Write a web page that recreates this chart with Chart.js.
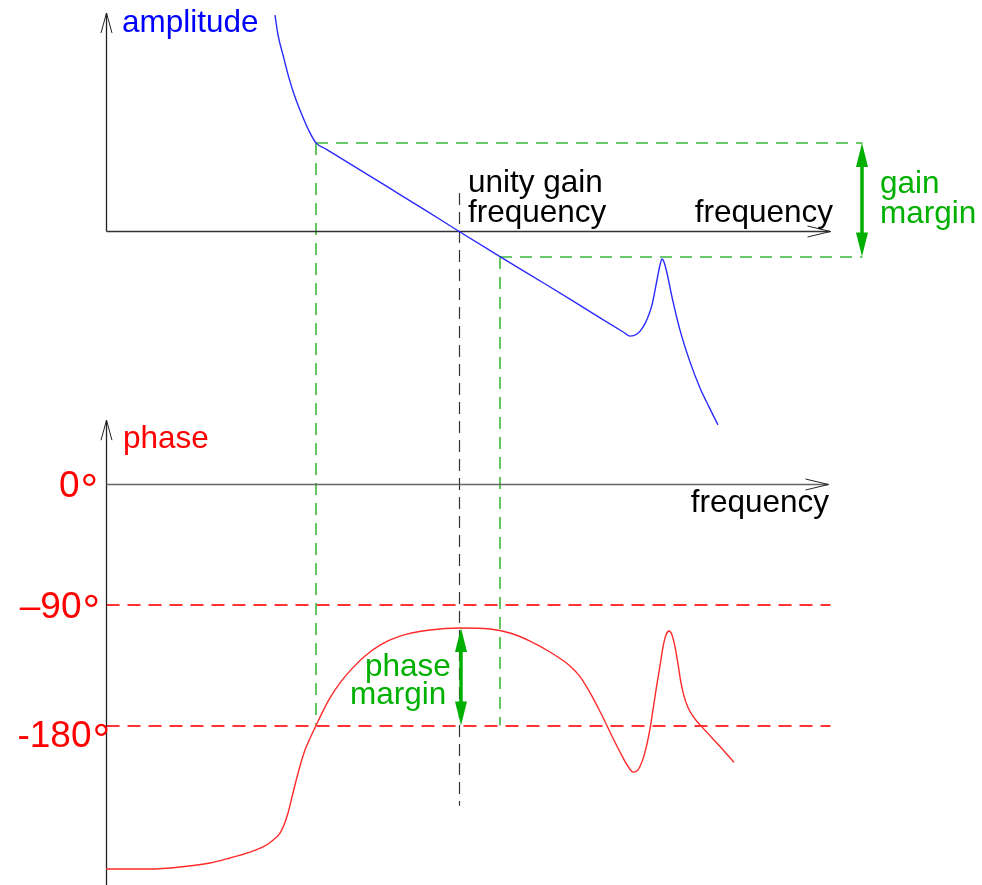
<!DOCTYPE html>
<html>
<head>
<meta charset="utf-8">
<script src="https://cdn.jsdelivr.net/npm/chart.js@4.4.1/dist/chart.umd.min.js"></script>
<style>
  html, body { margin: 0; padding: 0; background: #fff; }
  canvas { display: block; }
</style>
</head>
<body>
<canvas id="bode" width="982" height="885"></canvas>
<script>
// frequency in decades from the vertical axis, gain in dB
const ampFreq = [1.69, 1.72, 1.77, 1.83, 1.89, 1.96, 2.03, 2.10, 2.20, 2.40, 2.80, 3.20, 3.54, 3.94, 4.40, 4.80, 5.18, 5.24,
                 5.31, 5.37, 5.42, 5.46, 5.51, 5.54, 5.56, 5.58, 5.61, 5.66, 5.74, 5.84, 5.94, 6.03, 6.12];
const ampGain = [72.3, 65.7, 59.0, 51.3, 45.0, 39.0, 33.7, 29.7, 27.65, 23.55, 15.34, 7.14, 0, -8.2, -17.5, -25.7, -33.5, -34.7,
                 -34.0, -31.7, -28.3, -24.3, -16.0, -11.0, -9.0, -10.0, -13.7, -21.7, -32.7, -43.3, -52.0, -58.3, -64.3];

// phase in degrees
const phaseFreq = [0.00, 0.44, 0.74, 1.04, 1.24, 1.44, 1.57, 1.66, 1.74, 1.78,
                   1.82, 1.86, 1.90, 1.94, 1.99, 2.04, 2.10, 2.17, 2.24, 2.34,
                   2.44, 2.59, 2.74, 2.94, 3.24, 3.54, 3.84, 4.04, 4.24, 4.44,
                   4.64, 4.74, 4.84, 4.94, 4.99, 5.06, 5.14, 5.21, 5.27, 5.32,
                   5.37, 5.41, 5.44, 5.47, 5.50, 5.54, 5.57, 5.60, 5.63, 5.66,
                   5.69, 5.72, 5.75, 5.78, 5.82, 5.87, 5.91, 5.99, 6.07, 6.18, 6.28];
const phaseDeg = [-287.2, -287.2, -285.7, -282.7, -278.9, -274.5, -270.7, -266.2, -260.3, -254.3,
                  -245.3, -233.4, -221.4, -210.2, -198.3, -189.5, -180.0, -169.2, -159.4, -148.2,
                  -139.2, -128.1, -119.9, -113.2, -108.7, -107.2, -107.9, -110.9, -116.9, -125.1,
                  -135.5, -143.5, -155.5, -169.5, -177.0, -188.0, -199.8, -209.3, -214.8, -213.1,
                  -204.9, -193.7, -182.5, -168.3, -153.4, -135.5, -121.3, -112.4, -109.4, -112.4,
                  -121.3, -134.0, -148.2, -158.0, -166.5, -173.0, -177.0, -183.5, -190.0, -199.0, -207.5];

// margins and reference levels
const unityFreq = 3.54;
const crossFreq = [2.10, 3.94];
const crossGain = [29.7, -8.2];
const phaseAtUnity = -107.2;
const phaseTicks = [0, -90, -180];
const phaseTickLabels = ["0", "–90", "-180"];

// axis extents
const freqAxisEnd = 7.24;
const marginFreq = 7.56;
const ampAxisTop = 73;
const phaseAxisTop = 48;

const FONT = '"Liberation Sans", Arial, Helvetica, sans-serif';
const GREEN = "#00b000";
const GREEN_DASH = "#3cb83c";
const RED = "#ff0000";
const BLUE = "#0000ff";

// crisp 1px lines
const snap = v => Math.round(v - 0.5) + 0.5;

function seg(ctx, x1, y1, x2, y2, color, width, dash) {
    ctx.save();
    ctx.strokeStyle = color;
    ctx.lineWidth = width;
    ctx.setLineDash(dash || []);
    ctx.beginPath();
    ctx.moveTo(x1, y1);
    ctx.lineTo(x2, y2);
    ctx.stroke();
    ctx.restore();
}

// open chevron arrowhead, dir = "up" or "right"
function chevron(ctx, x, y, dir) {
    ctx.save();
    ctx.strokeStyle = "#222";
    ctx.lineWidth = 1;
    ctx.beginPath();
    if (dir === "up") {
        ctx.moveTo(x - 5.5, y + 20); ctx.lineTo(x, y); ctx.lineTo(x + 5.5, y + 20);
    } else {
        ctx.moveTo(x - 23, y - 5.5); ctx.lineTo(x, y); ctx.lineTo(x - 23, y + 5.5);
    }
    ctx.stroke();
    ctx.restore();
}

// thick vertical double-headed arrow
function doubleArrow(ctx, x, yTop, yBot) {
    const head = 24, half = 6;
    ctx.save();
    ctx.fillStyle = GREEN;
    ctx.strokeStyle = GREEN;
    ctx.lineWidth = 3.5;
    ctx.beginPath();
    ctx.moveTo(x, yTop + head - 2);
    ctx.lineTo(x, yBot - head + 2);
    ctx.stroke();
    ctx.beginPath();
    ctx.moveTo(x, yTop); ctx.lineTo(x - half, yTop + head); ctx.lineTo(x + half, yTop + head); ctx.closePath();
    ctx.moveTo(x, yBot); ctx.lineTo(x - half, yBot - head); ctx.lineTo(x + half, yBot - head); ctx.closePath();
    ctx.fill();
    ctx.restore();
}

function label(ctx, text, x, y, color, size, align) {
    ctx.save();
    ctx.font = size + "px " + FONT;
    ctx.fillStyle = color;
    ctx.textAlign = align || "left";
    ctx.textBaseline = "alphabetic";
    ctx.fillText(text, x, y);
    ctx.restore();
}

const bodeDecor = {
    id: "bodeDecor",
    beforeDatasetsDraw(chart) {
        const ctx = chart.ctx;
        const { x: xs, amp, phase } = chart.scales;
        const px = v => snap(xs.getPixelForValue(v));
        const x0 = px(0), xEnd = px(freqAxisEnd);

        // phase reference levels
        phaseTicks.slice(1).forEach(v => {
            const y = Math.round(phase.getPixelForValue(v));
            seg(ctx, x0, y, xEnd, y, "#ff3333", 1.8, [13, 8]);
        });

        // green guides from the amplitude curve down to -180°
        crossFreq.forEach((f, i) => {
            const y = Math.round(amp.getPixelForValue(crossGain[i]));
            const x = Math.round(xs.getPixelForValue(f));
            seg(ctx, x, y, px(marginFreq), y, GREEN_DASH, 1.6, [12, 8]);
            seg(ctx, x, y, x, phase.getPixelForValue(-180), GREEN_DASH, 1.6, [12, 8]);
        });

        // unity gain frequency marker
        seg(ctx, px(unityFreq), amp.getPixelForValue(13), px(unityFreq), phase.getPixelForValue(-240), "#333", 1.2, [12, 7]);

        // amplitude axes
        const a0 = snap(amp.getPixelForValue(0)), aTop = amp.getPixelForValue(ampAxisTop);
        seg(ctx, x0, aTop, x0, a0, "#222", 1.3);
        chevron(ctx, x0, aTop, "up");
        seg(ctx, x0, a0, xEnd, a0, "#333", 1.3);
        chevron(ctx, xEnd, a0, "right");

        // phase axes
        const p0 = snap(phase.getPixelForValue(0)), pTop = phase.getPixelForValue(phaseAxisTop);
        seg(ctx, x0, pTop, x0, chart.chartArea.bottom, "#222", 1.3);
        chevron(ctx, x0, pTop, "up");
        seg(ctx, x0, p0, xEnd - 2, p0, "#666", 1.3);
        chevron(ctx, xEnd - 2, p0, "right");
    },
    afterDatasetsDraw(chart) {
        const ctx = chart.ctx;
        const { x: xs, amp, phase } = chart.scales;
        const px = v => xs.getPixelForValue(v);
        const x0 = px(0), xEnd = px(freqAxisEnd), xu = px(unityFreq);
        const a0 = amp.getPixelForValue(0);
        const p0 = phase.getPixelForValue(0);

        // margins
        doubleArrow(ctx, px(marginFreq), amp.getPixelForValue(crossGain[0]), amp.getPixelForValue(crossGain[1]));
        doubleArrow(ctx, xu + 1, phase.getPixelForValue(phaseAtUnity), phase.getPixelForValue(-180));

        // amplitude texts
        label(ctx, "amplitude", x0 + 16, amp.getPixelForValue(ampAxisTop) + 19, BLUE, 31.5);
        label(ctx, "unity gain", xu + 8, a0 - 40, "#000", 31.5);
        label(ctx, "frequency", xu + 8, a0 - 10, "#000", 31.5);
        label(ctx, "frequency", xEnd + 3, a0 - 10, "#000", 31.5, "right");
        label(ctx, "gain", px(marginFreq) + 18, a0 - 39, GREEN, 31.5);
        label(ctx, "margin", px(marginFreq) + 18, a0 - 9, GREEN, 31.5);

        // phase texts
        label(ctx, "phase", x0 + 17, p0 - 37, RED, 31.5);
        label(ctx, "frequency", xEnd - 1, p0 + 27, "#000", 31.5, "right");
        label(ctx, "phase", xu - 95, phase.getPixelForValue(-180) - 50, GREEN, 31.5);
        label(ctx, "margin", xu - 110, phase.getPixelForValue(-180) - 22, GREEN, 31.5);

        // phase tick labels: number, then a large degree ring
        const numRight = [x0 - 26.5, x0 - 24.5, x0 - 14.5];
        const drop = [12.5, 13, 21.5];
        phaseTicks.forEach((v, i) => {
            const base = phase.getPixelForValue(v) + drop[i];
            label(ctx, phaseTickLabels[i], numRight[i], base, RED, 37, "right");
            label(ctx, "°", numRight[i] + 1, base + 8, RED, 44);
        });
    }
};

new Chart(document.getElementById("bode"), {
    type: "line",
    data: {
        datasets: [
            {
                data: ampFreq.map((f, i) => ({ x: f, y: ampGain[i] })),
                yAxisID: "amp",
                borderColor: "#2a2aff",
                borderWidth: 1.4,
                pointRadius: 0,
                cubicInterpolationMode: "monotone"
            },
            {
                data: phaseFreq.map((f, i) => ({ x: f, y: phaseDeg[i] })),
                yAxisID: "phase",
                borderColor: "#ff2a2a",
                borderWidth: 1.4,
                pointRadius: 0,
                cubicInterpolationMode: "monotone"
            }
        ]
    },
    options: {
        responsive: false,
        animation: false,
        devicePixelRatio: 1,
        events: [],
        layout: { padding: 0 },
        plugins: { legend: { display: false }, tooltip: { enabled: false } },
        scales: {
            x: { type: "linear", min: -1.06, max: 8.76, display: false },
            amp: { type: "linear", min: -217.67, max: 77.33, display: false },
            phase: { type: "linear", min: -299.1, max: 361.84, display: false }
        }
    },
    plugins: [bodeDecor]
});
</script>
</body>
</html>
